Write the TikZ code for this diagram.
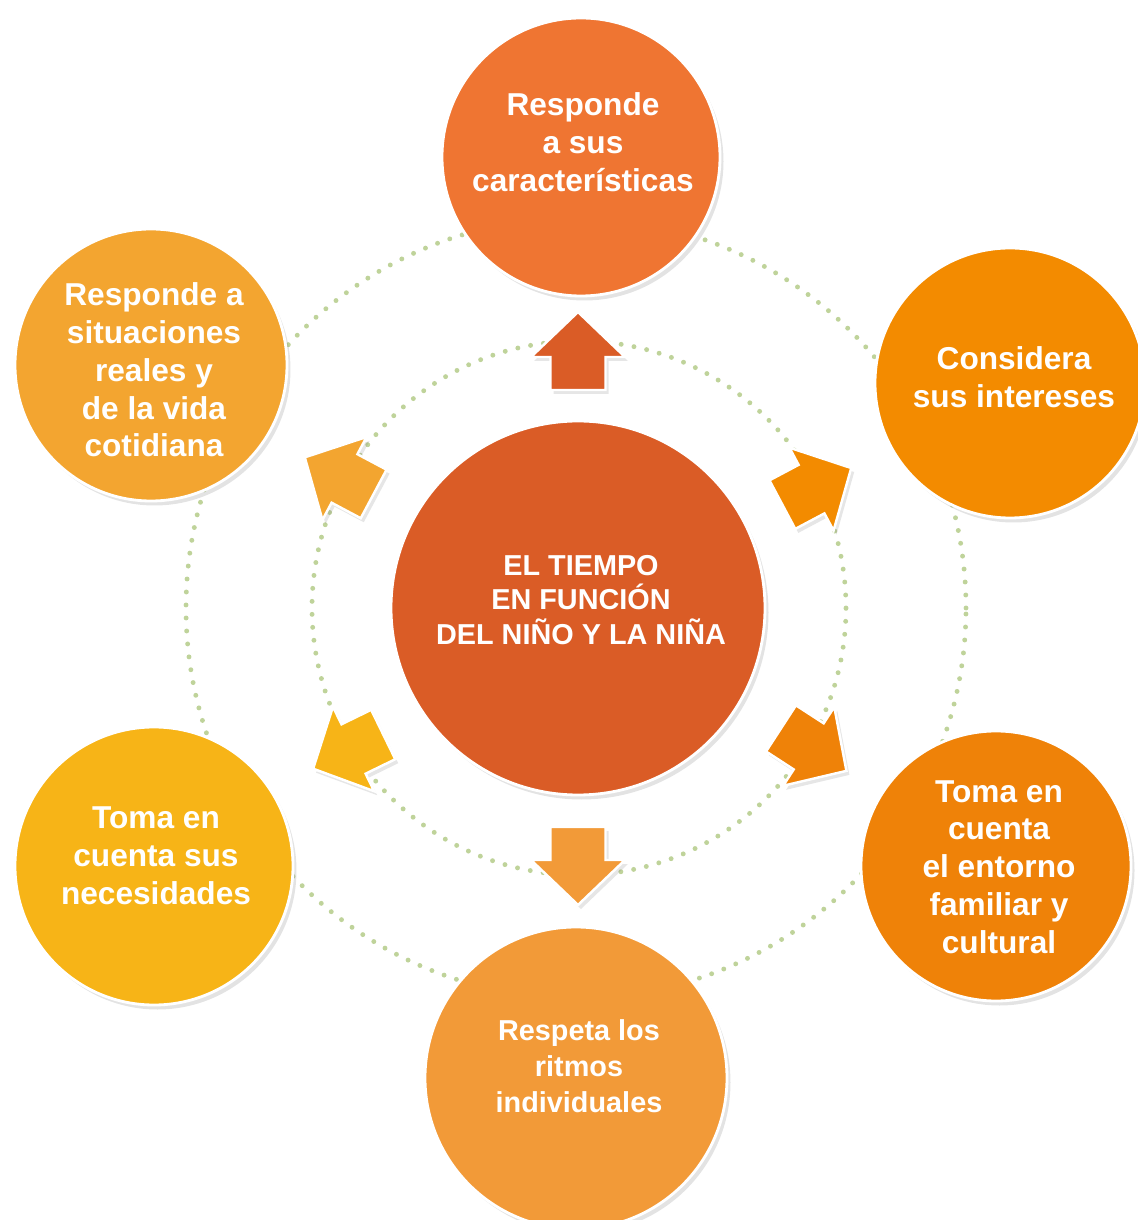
\documentclass[tikz,border=0pt]{standalone}
\usepackage{fontspec}
\setmainfont{Liberation Sans}
\usetikzlibrary{shadows}

\definecolor{cCentro}{HTML}{DA5C26}
\definecolor{cTop}{HTML}{EF7532}
\definecolor{cTopR}{HTML}{F38B00}
\definecolor{cBotR}{HTML}{EF8208}
\definecolor{cBot}{HTML}{F29A38}
\definecolor{cBotL}{HTML}{F7B417}
\definecolor{cTopL}{HTML}{F3A530}
\definecolor{dotgreen}{HTML}{BFD39A}

\tikzset{
	bubble/.style={circle, draw=white, line width=1.6pt,
		drop shadow={opacity=0.22, shadow xshift=0.07cm, shadow yshift=-0.09cm}},
	txt/.style={text=white, align=center, font=\fontsize{18}{21.5}\selectfont\bfseries},
	ring/.style={draw=dotgreen, line width=2.8pt, line cap=round, dash pattern=on 0pt off 7.4pt},
	blockarr/.pic={
		\path[pic actions, drop shadow={opacity=0.2, shadow xshift=0.06cm, shadow yshift=-0.08cm}]
			(-0.78,-0.55) -- (-0.12,-0.55) -- (-0.12,-0.94) -- (0.78,0)
			-- (-0.12,0.94) -- (-0.12,0.55) -- (-0.78,0.55) -- cycle;
	}
}

\begin{document}
\begin{tikzpicture}
	\useasboundingbox (-11.56,-12.24) rectangle (11.18,12.16);
	
	% anillos punteados
	\draw[ring] (-0.04,0) circle (7.8);
	\draw[ring] (0.02,0) circle (5.34);
	
	% circulo central
	\node [bubble,
	fill=cCentro,
	minimum size=7.48cm] (tiempo) at (0,0) {};
	\node [txt, font=\fontsize{16.4}{19.8}\selectfont\bfseries] (tiempo-t) at (0.06,0.16)
		{EL TIEMPO\\EN FUNCIÓN\\DEL NIÑO Y LA NIÑA};
	
	% circulos exteriores
	\node [bubble,
	fill=cTop,
	minimum size=5.56cm] (caract) at (0.06,9.02) {};
	\node [txt] (caract-t) at (0.1,9.32) {Responde\\a sus\\características};
	
	\node [bubble,
	fill=cTopR,
	minimum size=5.4cm] (interes) at (8.64,4.5) {};
	\node [txt] (interes-t) at (8.72,4.62) {Considera\\sus intereses};
	
	\node [bubble,
	fill=cBotR,
	minimum size=5.4cm] (entorno) at (8.36,-5.16) {};
	\node [txt] (entorno-t) at (8.42,-5.18) {Toma en\\cuenta\\el entorno\\familiar y\\cultural};
	
	\node [bubble,
	fill=cBot,
	minimum size=6.04cm] (ritmos) at (-0.04,-9.4) {};
	\node [txt, font=\fontsize{16.4}{20.4}\selectfont\bfseries] (ritmos-t) at (0.02,-9.16)
		{Respeta los\\ritmos\\individuales};
	
	\node [bubble,
	fill=cBotL,
	minimum size=5.56cm] (necesid) at (-8.48,-5.16) {};
	\node [txt] (necesid-t) at (-8.44,-4.96) {Toma en\\cuenta sus\\necesidades};
	
	\node [bubble,
	fill=cTopL,
	minimum size=5.44cm] (situac) at (-8.54,4.86) {};
	\node [txt] (situac-t) at (-8.48,4.76) {Responde a\\situaciones\\reales y\\de la vida\\cotidiana};
	
	% flechas
	\pic [rotate=90, fill=cCentro, draw=white, line width=1.4pt] at (90:5.14) {blockarr};
	\pic [rotate=28, fill=cTopR, draw=white, line width=1.4pt] at (27:5.36) {blockarr};
	\pic [rotate=-33, fill=cBotR, draw=white, line width=1.4pt] at (-31:5.5) {blockarr};
	\pic [rotate=-90, fill=cBot, draw=white, line width=1.4pt] at (-90:5.16) {blockarr};
	\pic [rotate=206, fill=cBotL, draw=white, line width=1.4pt] at (212:5.42) {blockarr};
	\pic [rotate=152, fill=cTopL, draw=white, line width=1.4pt] at (151:5.46) {blockarr};
\end{tikzpicture}
\end{document}
